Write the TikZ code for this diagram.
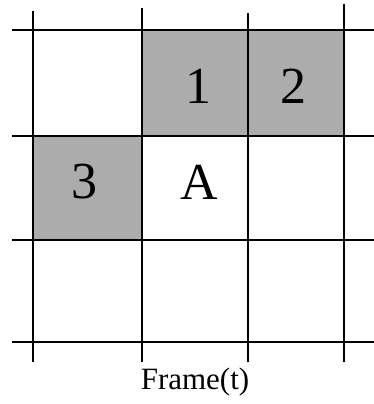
\documentclass[tikz,border=0pt]{standalone}
\usepackage{fontspec}
\setmainfont{Liberation Serif}
\definecolor{cellgray}{RGB}{172,172,172}
\begin{document}
\begin{tikzpicture}[x=1pt,y=-1pt,
  gridline/.style={line width=1.3pt,black},
  shade/.style={fill=cellgray},
  celltext/.style={font=\fontsize{52}{52}\selectfont,inner sep=0pt},
  captext/.style={font=\fontsize{31}{31}\selectfont,inner sep=0pt}]
\useasboundingbox (0,0) rectangle (374,404);
% shaded cells
\fill[shade] (142,30) rectangle (248,136);
\fill[shade] (248,30) rectangle (344,136);
\fill[shade] (33,136) rectangle (142,240);
% horizontal lines
\draw[gridline] (12,30) -- (374,30);
\draw[gridline] (12,136) -- (374,136);
\draw[gridline] (12,240) -- (374,240);
\draw[gridline] (12,342) -- (374,342);
% vertical lines
\draw[gridline] (33,11) -- (33,362);
\draw[gridline] (142,8) -- (142,362);
\draw[gridline] (248,13) -- (248,362);
\draw[gridline] (344,4) -- (344,362);
% labels
\node[celltext] (one) at (198,86) {1};
\node[celltext] (two) at (293,86) {2};
\node[celltext] (three) at (84,182) {3};
\node[celltext] (a) at (199,182) {A};
\node[captext] (cap) at (195,382) {Frame(t)};
\end{tikzpicture}
\end{document}
